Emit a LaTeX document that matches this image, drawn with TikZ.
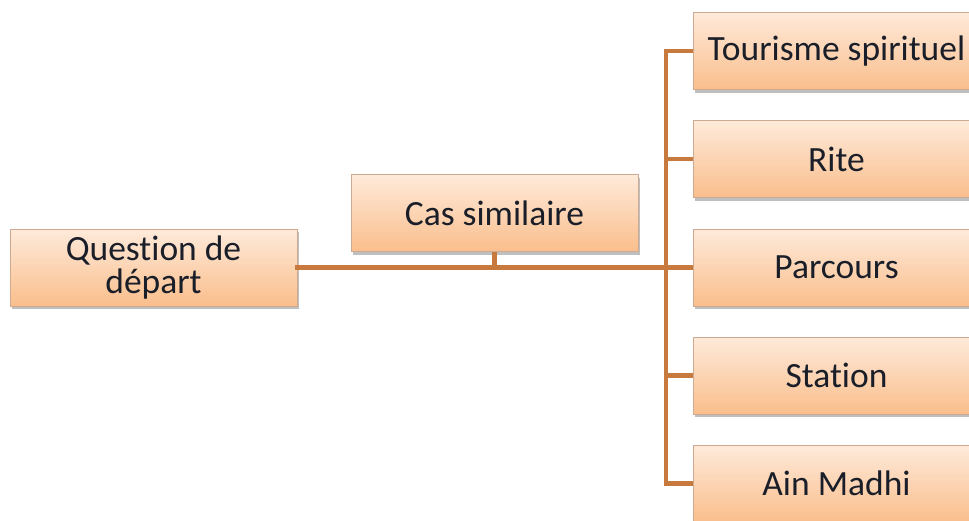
\documentclass[tikz,border=0pt]{standalone}
\usepackage{fontspec}
\setmainfont[Ligatures={NoCommon}]{Carlito}
\usetikzlibrary{shadows}
\definecolor{linec}{RGB}{200,122,62}
\definecolor{boxtop}{RGB}{254,234,218}
\definecolor{boxbot}{RGB}{250,190,140}
\definecolor{boxedge}{RGB}{205,170,145}
\definecolor{txt}{RGB}{25,30,40}
\begin{document}
\begin{tikzpicture}[x=1pt,y=1pt,
  box/.style={draw=boxedge, line width=0.8pt, top color=boxtop, bottom color=boxbot,
    minimum width=287pt, minimum height=77pt, inner sep=0pt, text=txt,
    font=\fontsize{35.5}{33}\selectfont, align=center,
    drop shadow={shadow xshift=2pt, shadow yshift=-3pt, fill=black!55, opacity=0.45}},
  conn/.style={draw=linec, line width=4.5pt}]
\useasboundingbox (0,0) rectangle (969,-520);
\clip (0,0) rectangle (969,-520);
\fill[white] (0,0) rectangle (969,-520);
\node[box] (q) at (153.5,-267.5) {Question de\\départ};
\node[box] (c) at (494.5,-213) {Cas similaire};
\node[box] (t1) at (836.5,-51) {Tourisme spirituel};
\node[box] (t2) at (836.5,-159) {Rite};
\node[box] (t3) at (836.5,-267.5) {Parcours};
\node[box] (t4) at (836.5,-375.5) {Station};
\node[box] (t5) at (836.5,-483.5) {Ain Madhi};
\coordinate (j) at (666,-267.5);
\coordinate (top) at (666,-51);
\coordinate (bot) at (666,-483.5);
\path[conn,line cap=rect] (q.east) -- (j);
\path[conn] (c.south) -- (c.south |- j);
\path[conn] (t1.west) -- (top) -- (bot) -- (t5.west);
\path[conn] (t2.west -| j) -- (t2.west);
\path[conn] (j) -- (t3.west);
\path[conn] (t4.west -| j) -- (t4.west);
\end{tikzpicture}
\end{document}
